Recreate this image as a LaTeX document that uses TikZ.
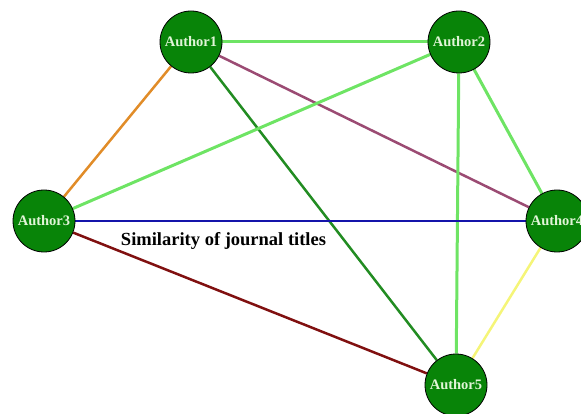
\documentclass[tikz,border=0pt]{standalone}
\usepackage{fontspec}
\setmainfont{Liberation Serif}
\usetikzlibrary{positioning,backgrounds}
\definecolor{authorfill}{RGB}{8,132,8}
\definecolor{authortext}{RGB}{225,245,215}
\definecolor{lightgreen}{RGB}{110,228,100}
\definecolor{darkgreen}{RGB}{34,140,34}
\definecolor{orangeline}{RGB}{225,140,40}
\definecolor{mauveline}{RGB}{155,75,115}
\definecolor{blueline}{RGB}{20,20,170}
\definecolor{redline}{RGB}{128,16,16}
\definecolor{yellowline}{RGB}{245,245,120}
\tikzset{
    author/.style={
        circle,
        draw=black,
        thick,
        fill=authorfill,
        text=authortext,
        minimum size=62pt,
        inner sep=0pt,
        font=\bfseries\fontsize{14.5}{14.5}\selectfont,
    },
    caption/.style={
        anchor=base,
        inner sep=0pt,
        font=\bfseries\fontsize{18.5}{18.5}\selectfont,
    },
    light/.style={draw=lightgreen, line width=3pt},
    every edge/.style={
        draw,
        -,
        line width=2.5pt,
    },
}
\begin{document}
\begin{tikzpicture}[x=1pt,y=1pt]
                \useasboundingbox (0,0) rectangle (581,-414);

                \node [author] (A1) at (191,-42) {Author1};
                \node [author] (A2) at (459,-42) {Author2};
                \node [author] (A3) at (44,-221) {Author3};
                \node [author] (A4) at (557,-221) {Author4};
                \node [author] (A5) at (456,-385) {Author5};

                \node [caption] (sim) at (223.5,-246) {Similarity of journal titles};

                \begin{pgfonlayer}{background}
                \draw (A1) edge[light] (A2);
                \draw (A1) edge[draw=orangeline] (A3);
                \draw (A1) edge[draw=mauveline] (A4);
                \draw (A1) edge[draw=darkgreen] (A5);
                \draw (A2) edge[light] (A3);
                \draw (A2) edge[light] (A4);
                \draw (A2) edge[light] (A5);
                \draw (A3) edge[draw=blueline] (A4);
                \draw (A3) edge[draw=redline] (A5);
                \draw (A4) edge[draw=yellowline] (A5);
                \end{pgfonlayer}
            \end{tikzpicture}
\end{document}
